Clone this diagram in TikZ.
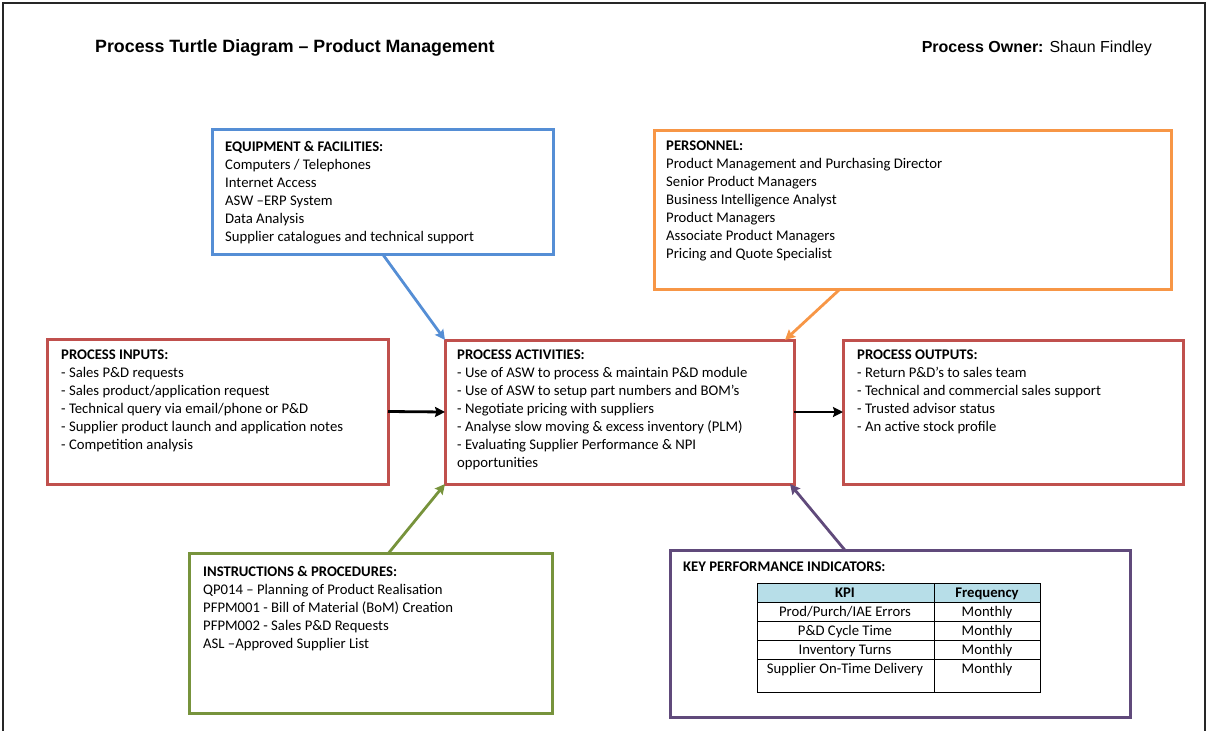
\documentclass[tikz,border=0pt]{standalone}
\usepackage{fontspec}
\setmainfont{Carlito}
\newfontfamily\headfont{Liberation Sans}
\usetikzlibrary{arrows.meta,calc}

\definecolor{eqblue}{HTML}{558ED5}
\definecolor{perorange}{HTML}{F79646}
\definecolor{procred}{HTML}{C0504D}
\definecolor{instgreen}{HTML}{77933C}
\definecolor{kpipurple}{HTML}{604A7B}
\definecolor{kpihead}{HTML}{B7DEE8}

\tikzset{
  box/.style={draw=#1, line width=3pt, outer sep=0pt, inner sep=0pt, anchor=north west},
  boxtext/.style={anchor=north west, inner sep=0pt, align=left, font=\fontsize{14.7}{18}\selectfont},
  link/.style={draw=#1, line width=2.8pt, -{Stealth[length=10pt,width=10pt,inset=1.5pt]}},
  cell/.style={anchor=base, inner sep=0pt, font=\fontsize{14.7}{18}\selectfont}
}

\begin{document}
\begin{tikzpicture}[x=1pt,y=-1pt]
    \useasboundingbox (0,0) rectangle (1208,731);
    \draw[black!85, line width=1.2pt] (3,731) -- (3,3) -- (1205,3) -- (1205,731);

    % heading
    \node[anchor=base west, inner sep=0pt, font=\headfont\bfseries\fontsize{17.8}{20}\selectfont] (title) at (95,52.5) {Process Turtle Diagram – Product Management};
    \node[anchor=base east, inner sep=0pt, font=\headfont\fontsize{16}{19}\selectfont] (owner) at (1152,52.5) {\textbf{Process Owner:} Shaun Findley};

    % boxes
    \node[box=eqblue, minimum width=341, minimum height=125] (equip) at (212,129) {};
    \node[box=perorange, minimum width=517, minimum height=159] (pers) at (654,130) {};
    \node[box=procred, minimum width=341, minimum height=145] (inputs) at (47,339) {};
    \node[box=procred, minimum width=349, minimum height=144] (act) at (445,340) {};
    \node[box=procred, minimum width=340, minimum height=144] (outputs) at (843,340) {};
    \node[box=instgreen, minimum width=363, minimum height=160] (instr) at (189,553) {};
    \node[box=kpipurple, minimum width=460, minimum height=167] (kpi) at (670,550) {};

    % box texts
    \node[boxtext] (equiptext) at (225,141) {\textbf{EQUIPMENT \& FACILITIES:}\\Computers / Telephones\\Internet Access\\ASW –ERP System\\Data Analysis\\Supplier catalogues and technical support};
    \node[boxtext] (perstext) at (666,141) {\textbf{PERSONNEL:}\\Product Management and Purchasing Director\\Senior Product Managers\\Business Intelligence Analyst\\Product Managers\\Associate Product Managers\\Pricing and Quote Specialist};
    \node[boxtext] (inputstext) at (61,350) {\textbf{PROCESS INPUTS:}\\- Sales P\&D requests\\- Sales product/application request\\- Technical query via email/phone or P\&D\\- Supplier product launch and application notes\\- Competition analysis};
    \node[boxtext] (acttext) at (457,350) {\textbf{PROCESS ACTIVITIES:}\\- Use of ASW to process \& maintain P\&D module\\- Use of ASW to setup part numbers and BOM’s\\- Negotiate pricing with suppliers\\- Analyse slow moving \& excess inventory (PLM)\\- Evaluating Supplier Performance \& NPI\\opportunities};
    \node[boxtext] (outputstext) at (857,350) {\textbf{PROCESS OUTPUTS:}\\- Return P\&D’s to sales team\\- Technical and commercial sales support\\- Trusted advisor status\\- An active stock profile};
    \node[boxtext] (instrtext) at (203,566) {\textbf{INSTRUCTIONS \& PROCEDURES:}\\QP014 – Planning of Product Realisation\\PFPM001 - Bill of Material (BoM) Creation\\PFPM002 - Sales P\&D Requests\\ASL –Approved Supplier List};
    \node[boxtext] (kpitext) at (683,562) {\textbf{KEY PERFORMANCE INDICATORS:}};

    % kpi table
    \fill[kpihead] (757,583) rectangle (1040,602);
    \draw[line width=0.8pt] (757,583) rectangle (1040,692);
    \draw[line width=0.8pt] (934,583) -- (934,692);
    \foreach \y in {602,621,640,659}
        \draw[line width=0.8pt] (757,\y) -- (1040,\y);
    \node[cell] (kpihd) at (845,597.5) {\textbf{KPI}};
    \node[cell] (freqhd) at (987,597.5) {\textbf{Frequency}};
    \foreach \t [count=\i] in {Prod/Purch/IAE Errors, P\&D Cycle Time, Inventory Turns, Supplier On-Time Delivery} {
        \node[cell] (kpi\i) at (845,597.5+19*\i) {\t};
        \node[cell] (freq\i) at (987,597.5+19*\i) {Monthly};
    }

    % connectors
    \draw[link=eqblue] (equip.south) -- (act.north west);
    \draw[link=perorange] ($(pers.south west)!0.36!(pers.south east)$) -- ([xshift=-9pt]act.north east);
    \draw[link=instgreen] ($(instr.north west)!0.55!(instr.north east)$) -- (act.south west);
    \draw[link=kpipurple] ($(kpi.north west)!0.38!(kpi.north east)$) -- ([xshift=-4pt]act.south east);
    \draw[link=black] (inputs.east) -- (act.west);
    \draw[link=black] (act.east) -- (outputs.west);
\end{tikzpicture}
\end{document}
